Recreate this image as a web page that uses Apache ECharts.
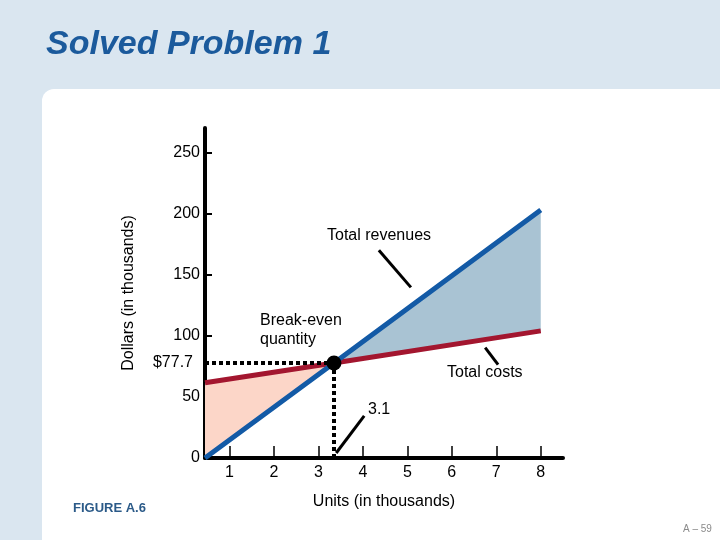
<!DOCTYPE html>
<html>
<head>
<meta charset="utf-8">
<title>Solved Problem 1</title>
<script src="https://cdn.jsdelivr.net/npm/echarts@6/dist/echarts.min.js"></script>
<style>
    html, body { margin: 0; padding: 0; background: #dae6f0; }
    #container { width: 720px; height: 540px; }
</style>
</head>
<body>
<div id="container"></div>
<script>
// units (thousands) where the lines are read: axis start, break-even, right end
var units = [0.45, 3.35, 8];
var revenues = [0, 77.7, 203];
var costs = [61.5, 77.7, 104];
var breakEven = [3.35, 77.7];

// axis ticks and labels
var xTicks = [1, 2, 3, 4, 5, 6, 7, 8];
var yTicks = [0, 50, 100, 150, 200, 250];
var yLabels = [0, 50, 77.7, 100, 150, 200, 250];

// pointer strokes for the notes, in data units
var revenuePointer = [[4.36, 170], [5.08, 139.6]];
var costPointer = [[6.75, 90.3], [7.04, 76.4]];
var qtyPointer = [[3.40, 4.1], [4.03, 34.5]];

var font = 'Liberation Sans, Arial, sans-serif';

function pairs(xs, ys) {
    var out = [];
    for (var i = 0; i < xs.length; i++) out.push([xs[i], ys[i]]);
    return out;
}

// loss zone: between costs (top) and revenue (bottom) up to break-even
var lossZone = [[units[0], costs[0]], [units[1], costs[1]], [units[0], revenues[0]]];
// profit zone: between revenue (top) and costs (bottom) after break-even
var profitZone = [[units[1], revenues[1]], [units[2], revenues[2]], [units[2], costs[2]]];

function zoneSeries(points, color) {
    return {
        type: 'custom',
        data: points,
        silent: true,
        z: 1,
        renderItem: function (params, api) {
            if (params.dataIndex !== 0) return;
            var pts = [];
            for (var i = 0; i < points.length; i++) pts.push(api.coord(points[i]));
            return { type: 'polygon', shape: { points: pts }, style: { fill: color } };
        }
    };
}

var chart = echarts.init(document.getElementById('container'));

var option = {
    backgroundColor: '#dae6f0',
    animation: false,
    textStyle: { fontFamily: font },
    grid: { left: 205, right: 157, top: 128, bottom: 82 },
    graphic: [
        {
            type: 'rect', z: -10, silent: true,
            shape: { x: 42, y: 89, width: 700, height: 480, r: [12, 0, 0, 0] },
            style: { fill: '#ffffff' }
        },
        {
            type: 'text', left: 46, top: 28,
            style: { text: 'Solved Problem 1', fill: '#1b5a9c', font: 'italic bold 34px ' + font }
        },
        {
            type: 'text', left: 73, top: 502,
            style: { text: 'FIGURE A.6', fill: '#2b5a88', font: 'bold 13px ' + font }
        },
        {
            type: 'text', left: 683, top: 524,
            style: { text: 'A \u2013 59', fill: '#8a8a8a', font: '10px ' + font }
        },
        {
            type: 'text', left: 327, top: 228,
            style: { text: 'Total revenues', fill: '#000', font: '16px ' + font }
        },
        {
            type: 'text', left: 260, top: 311,
            style: { text: 'Break-even\nquantity', fill: '#000', font: '16px ' + font, lineHeight: 19 }
        },
        {
            type: 'text', left: 447, top: 365,
            style: { text: 'Total costs', fill: '#000', font: '16px ' + font }
        },
        {
            type: 'text', left: 368, top: 402,
            style: { text: '3.1', fill: '#000', font: '16px ' + font }
        }
    ],
    xAxis: {
        type: 'value',
        min: 0.45,
        max: 8.5,
        name: 'Units (in thousands)',
        nameLocation: 'middle',
        nameGap: 36,
        nameTextStyle: { fontSize: 16, color: '#000', fontFamily: font },
        splitLine: { show: false },
        axisLine: { show: true, onZero: false, lineStyle: { color: '#000', width: 4 } },
        axisTick: { show: true, inside: true, length: 12, customValues: xTicks, lineStyle: { color: '#000', width: 1.5 } },
        axisLabel: { customValues: xTicks, color: '#000', fontSize: 16, margin: 7, fontFamily: font }
    },
    yAxis: {
        type: 'value',
        min: 0,
        max: 270,
        name: 'Dollars (in thousands)',
        nameLocation: 'middle',
        nameGap: 68,
        nameTextStyle: { fontSize: 16, color: '#000', fontFamily: font },
        splitLine: { show: false },
        axisLine: { show: true, onZero: false, lineStyle: { color: '#000', width: 4 } },
        axisTick: { show: true, inside: true, length: 7, customValues: yTicks, lineStyle: { color: '#000', width: 2 } },
        axisLabel: {
            customValues: yLabels,
            color: '#000',
            fontSize: 16,
            margin: 5,
            fontFamily: font,
            formatter: function (v) {
                if (v === breakEven[1]) return '{m|$' + v + '}';
                return String(v);
            },
            rich: { m: { fontSize: 16, color: '#000', fontFamily: font, padding: [0, 7, 0, 0] } }
        }
    },
    series: [
        zoneSeries(lossZone, '#fcd6c8'),
        zoneSeries(profitZone, '#a9c3d3'),
        {
            name: 'Total costs', type: 'line', data: pairs(units, costs), symbol: 'none',
            lineStyle: { color: '#a3162f', width: 5 }, z: 3
        },
        {
            name: 'Total revenues', type: 'line', data: pairs(units, revenues), symbol: 'none',
            lineStyle: { color: '#135aa6', width: 5 }, z: 4,
            markLine: {
                silent: true, symbol: 'none',
                label: { show: false },
                lineStyle: { color: '#000', width: 3, type: 'solid' },
                data: [
                    [{ coord: revenuePointer[0] }, { coord: revenuePointer[1] }],
                    [{ coord: costPointer[0] }, { coord: costPointer[1] }],
                    [{ coord: qtyPointer[0] }, { coord: qtyPointer[1] }]
                ]
            }
        },
        {
            name: 'Break-even', type: 'scatter', data: [breakEven], symbolSize: 15,
            itemStyle: { color: '#000', opacity: 1 }, z: 6,
            markLine: {
                silent: true, symbol: 'none',
                label: { show: false },
                lineStyle: { color: '#000', width: 4, type: [4, 3], cap: 'butt' },
                data: [
                    [{ coord: [0.45, breakEven[1]] }, { coord: breakEven }],
                    [{ coord: breakEven }, { coord: [breakEven[0], 0] }]
                ]
            }
        }
    ]
};

chart.setOption(option);
</script>
</body>
</html>
